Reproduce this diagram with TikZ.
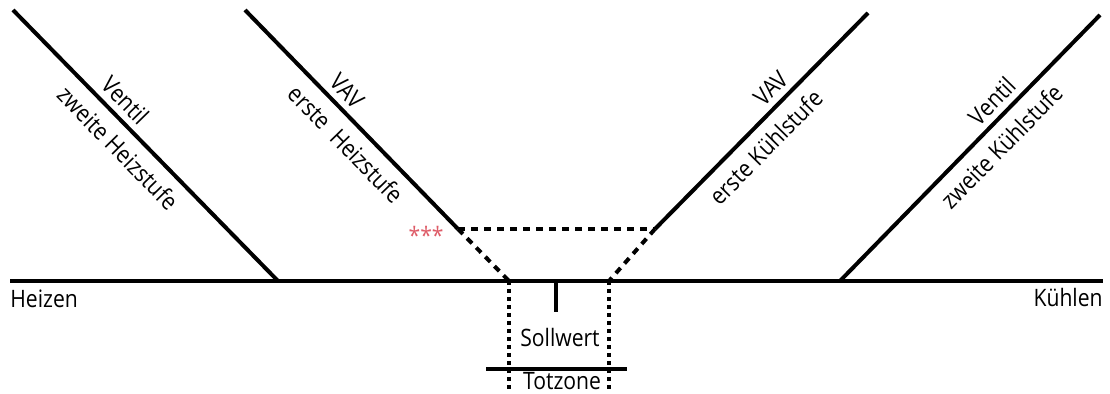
\documentclass[tikz,border=0pt]{standalone}
\usepackage{fontspec}
\setmainfont{Open Sans}[FakeStretch=0.88]
\usepackage{xcolor}
\usetikzlibrary{positioning, calc}
\definecolor{sternrot}{RGB}{222,92,104}

\tikzset{
  kennlinie/.style={line width=2pt},
  strichlinie/.style={line width=2pt, dash pattern=on 3.5pt off 3pt},
  punktlinie/.style={line width=2pt, dash pattern=on 2pt off 2pt},
  schrift/.style={font=\fontsize{12}{14}\selectfont, inner sep=0pt},
  oben/.style={schrift, sloped, above=3pt},
  unten/.style={schrift, sloped, below=5pt}
}

\begin{document}
\begin{tikzpicture}[x=0.5pt, y=-0.5pt]
\useasboundingbox (0,0) rectangle (1110,394);
\pgfmathsetmacro{\nulllinie}{281}
\pgfmathsetmacro{\knick}{229}
\pgfmathsetmacro{\unten}{392}

% Achse und Punkte
\coordinate (links) at (10,\nulllinie);
\coordinate (rechts) at (1103,\nulllinie);
\coordinate (hzzweio) at (13,10);
\coordinate (hzzweiu) at (278,\nulllinie);
\coordinate (hzeinso) at (245,10);
\coordinate (hzeinsu) at (458,\knick);
\coordinate (kueinsu) at (655,\knick);
\coordinate (kueinso) at (868,13);
\coordinate (kuzweiu) at (840,\nulllinie);
\coordinate (kuzweio) at (1100,15);
\coordinate (tzlinks) at (509,\nulllinie);
\coordinate (tzrechts) at (609,\nulllinie);
\coordinate (tzlinksu) at (509,\unten);
\coordinate (tzrechtsu) at (609,\unten);
\coordinate (soll) at (556,\nulllinie);
\coordinate (sollu) at (556,312);
\coordinate (tzbalkenl) at (486,369);
\coordinate (tzbalkenr) at (627,369);

\draw[kennlinie] (links) -- (rechts);

% Heizstufen
\draw[kennlinie] (hzzweio) -- node[oben, pos=0.377] (ventilh) {Ventil}
  node[unten, pos=0.454] (zweiteh) {zweite Heizstufe} (hzzweiu);
\draw[kennlinie] (hzeinso) -- node[oben, pos=0.423] (vavh) {VAV}
  node[unten, pos=0.545] (ersteh) {erste\ \ Heizstufe} (hzeinsu);

% Kuehlstufen
\draw[kennlinie] (kueinsu) -- node[oben, pos=0.598] (vavk) {VAV}
  node[unten, pos=0.448] (erstek) {erste Kühlstufe} (kueinso);
\draw[kennlinie] (kuzweiu) -- node[oben, pos=0.631] (ventilk) {Ventil}
  node[unten, pos=0.562] (zweitek) {zweite Kühlstufe} (kuzweio);

% Totzone
\draw[strichlinie] (hzeinsu) -- (kueinsu);
\draw[strichlinie] (hzeinsu) -- (tzlinks);
\draw[strichlinie] (kueinsu) -- (tzrechts);
\draw[punktlinie] (tzlinks) -- (tzlinksu);
\draw[punktlinie] (tzrechts) -- (tzrechtsu);
\draw[kennlinie] (soll) -- (sollu);
\draw[kennlinie] (tzbalkenl) -- (tzbalkenr);

\node[schrift, anchor=base west] (heizen) at (10,308) {Heizen};
\node[schrift, anchor=base east] (kuehlen) at (1103,307) {Kühlen};
\node[schrift, anchor=base] (sollwert) at (560,347) {Sollwert};
\node[schrift, anchor=base] (totzone) at (562,390) {Totzone};
\node[schrift, text=sternrot, left=7pt of hzeinsu, yshift=-3pt] (sterne) {***};
\end{tikzpicture}
\end{document}
